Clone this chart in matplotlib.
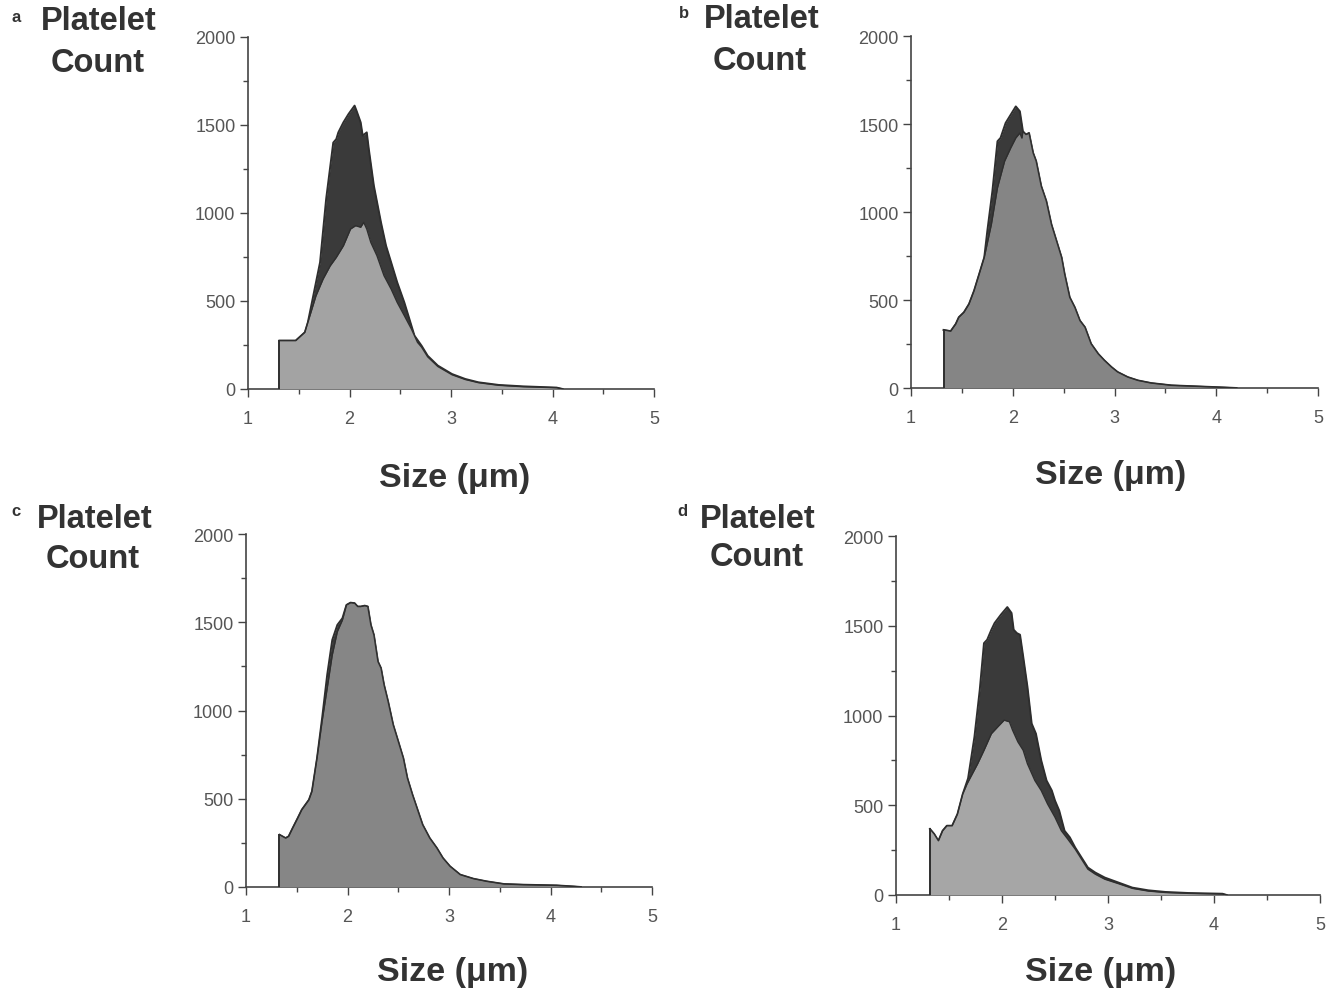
import matplotlib
matplotlib.use("Agg")
import matplotlib.pyplot as plt
from matplotlib.ticker import MultipleLocator

plt.rcParams['font.family'] = ['Liberation Sans', 'DejaVu Sans']

# ---- Panel a: platelet size distribution (total vs. subset) ----
a_size = [1.31, 1.47, 1.56, 1.59, 1.71, 1.77, 1.84, 1.87, 1.89, 1.94, 1.99, 2.05,
          2.07, 2.11, 2.13, 2.17, 2.19, 2.24, 2.31, 2.36, 2.41, 2.47, 2.54, 2.59,
          2.64, 2.71, 2.77, 2.87, 3.01, 3.14, 3.27, 3.47, 3.71, 4.04, 4.10]
a_total = [275, 275, 322, 379, 720, 1080, 1400, 1420, 1458, 1515, 1562, 1610,
           1580, 1515, 1440, 1458, 1364, 1155, 947, 814, 720, 606, 492, 398,
           303, 246, 189, 133, 85, 57, 38, 23, 15, 8, 0]
a_sub_size = [1.31, 1.47, 1.56, 1.61, 1.67, 1.74, 1.81, 1.87, 1.94, 2.01, 2.06,
              2.11, 2.14, 2.17, 2.21, 2.27, 2.34, 2.41, 2.47, 2.54, 2.61, 2.67,
              2.71, 2.77, 2.87, 3.01, 3.14, 3.27, 3.47, 3.71, 4.04, 4.10]
a_sub = [275, 275, 322, 417, 530, 625, 700, 748, 814, 909, 928,
         919, 947, 909, 833, 758, 644, 568, 492, 417, 341, 265,
         238, 183, 128, 81, 54, 36, 21, 13, 7, 0]

# ---- Panel b ----
b_size = [1.32, 1.39, 1.44, 1.47, 1.52, 1.57, 1.62, 1.67, 1.72, 1.75, 1.80, 1.85,
          1.88, 1.93, 1.98, 2.03, 2.07, 2.10, 2.13, 2.16, 2.20, 2.23, 2.28, 2.33,
          2.38, 2.43, 2.48, 2.51, 2.56, 2.61, 2.66, 2.71, 2.77, 2.84, 2.90, 2.97,
          3.03, 3.13, 3.23, 3.36, 3.56, 3.82, 4.08, 4.20]
b_total = [330, 323, 364, 402, 430, 477, 553, 647, 742, 892, 1119, 1402,
           1421, 1506, 1553, 1600, 1572, 1458, 1440, 1449, 1336, 1289, 1147, 1062,
           930, 836, 742, 647, 515, 458, 383, 345, 251, 194, 157, 119,
           91, 62, 43, 28, 15, 9, 3, 0]
b_sub_size = [1.32, 1.39, 1.44, 1.47, 1.52, 1.57, 1.62, 1.67, 1.72, 1.79, 1.85,
              1.92, 1.98, 2.03, 2.07, 2.09, 2.10, 2.13, 2.16, 2.20, 2.23, 2.28,
              2.33, 2.38, 2.43, 2.48, 2.51, 2.56, 2.61, 2.66, 2.71, 2.77, 2.84,
              2.90, 2.97, 3.03, 3.13, 3.23, 3.36, 3.56, 3.82, 4.08, 4.20]
b_sub = [330, 323, 364, 402, 430, 477, 553, 647, 742, 930, 1138,
         1289, 1364, 1421, 1449, 1420, 1458, 1440, 1449, 1336, 1289, 1147,
         1062, 930, 836, 742, 647, 515, 458, 383, 345, 251, 194,
         157, 119, 91, 62, 43, 28, 15, 9, 3, 0]

# ---- Panel c ----
c_size = [1.33, 1.39, 1.42, 1.46, 1.51, 1.55, 1.62, 1.65, 1.70, 1.75, 1.80, 1.85,
          1.90, 1.95, 1.99, 2.03, 2.07, 2.10, 2.13, 2.17, 2.20, 2.23, 2.26, 2.30,
          2.33, 2.36, 2.40, 2.45, 2.50, 2.55, 2.59, 2.64, 2.69, 2.74, 2.81, 2.88,
          2.94, 3.01, 3.11, 3.24, 3.37, 3.54, 3.73, 4.06, 4.23, 4.30]
c_total = [296, 277, 287, 334, 391, 438, 494, 542, 730, 957, 1202, 1400,
           1485, 1523, 1598, 1611, 1608, 1589, 1589, 1594, 1589, 1485, 1428, 1277,
           1240, 1145, 1051, 919, 825, 730, 617, 523, 438, 353, 277, 221,
           164, 117, 70, 47, 32, 17, 13, 9, 3, 0]
c_sub_size = [1.33, 1.39, 1.42, 1.46, 1.51, 1.55, 1.62, 1.65, 1.70, 1.75, 1.80,
              1.85, 1.90, 1.95, 1.99, 2.03, 2.07, 2.10, 2.13, 2.17, 2.20, 2.23,
              2.26, 2.30, 2.33, 2.36, 2.40, 2.45, 2.50, 2.55, 2.59, 2.64, 2.69,
              2.74, 2.81, 2.88, 2.94, 3.01, 3.11, 3.24, 3.37, 3.54, 3.73, 4.06,
              4.23, 4.30]
c_sub = [296, 277, 287, 334, 391, 438, 494, 542, 730, 940, 1126,
         1315, 1447, 1513, 1598, 1611, 1608, 1589, 1589, 1594, 1589, 1485,
         1428, 1277, 1240, 1145, 1051, 919, 825, 730, 617, 523, 438,
         353, 277, 221, 164, 117, 70, 47, 32, 17, 13, 9,
         3, 0]

# ---- Panel d ----
d_size = [1.32, 1.36, 1.40, 1.44, 1.48, 1.53, 1.58, 1.63, 1.68, 1.74, 1.79, 1.83,
          1.86, 1.90, 1.93, 1.99, 2.05, 2.09, 2.11, 2.14, 2.17, 2.20, 2.24, 2.28,
          2.32, 2.37, 2.42, 2.47, 2.50, 2.54, 2.59, 2.64, 2.69, 2.75, 2.81, 2.88,
          2.97, 3.10, 3.23, 3.38, 3.54, 3.76, 4.08, 4.12]
d_total = [368, 340, 302, 358, 386, 386, 451, 563, 650, 881, 1142, 1403,
           1422, 1478, 1515, 1562, 1604, 1571, 1478, 1459, 1450, 1328, 1160, 955,
           899, 750, 638, 582, 526, 470, 358, 321, 265, 209, 153, 125,
           97, 69, 41, 26, 17, 11, 7, 0]
d_sub_size = [1.32, 1.36, 1.40, 1.44, 1.48, 1.53, 1.58, 1.63, 1.67, 1.72, 1.77,
              1.83, 1.90, 1.96, 2.02, 2.07, 2.10, 2.15, 2.20, 2.24, 2.31, 2.37,
              2.43, 2.50, 2.56, 2.62, 2.69, 2.75, 2.81, 2.88, 2.97, 3.10, 3.23,
              3.38, 3.54, 3.76, 4.08, 4.12]
d_sub = [368, 340, 302, 358, 386, 386, 451, 563, 619, 675, 731,
         806, 899, 937, 974, 965, 918, 853, 806, 731, 638, 582,
         507, 433, 358, 312, 256, 200, 144, 116, 88, 63, 37,
         22, 14, 9, 5, 0]

letters = ['a', 'b', 'c', 'd']
y_ticks = [0, 500, 1000, 1500, 2000]
x_ticks = [1, 2, 3, 4, 5]

W, H = 1338, 995
fig = plt.figure(figsize=(W / 100, H / 100), dpi=100)


def fx(px):
    return px / W


def fy(py):
    return 1 - py / H


DARK = '#3a3a3a'
EDGE = '#2e2e2e'
TICK = '#555555'

panels = [
    dict(rect=(248, 38, 654, 390), total=(a_size, a_total), sub=(a_sub_size, a_sub),
         light='#a3a3a3', letter_xy=(16, 18), plat_xy=(99, 22), count_xy=(98, 63),
         size_xy=(455, 478)),
    dict(rect=(911, 37, 1318, 389), total=(b_size, b_total), sub=(b_sub_size, b_sub),
         light='#858585', letter_xy=(684, 14), plat_xy=(762, 20), count_xy=(760, 61),
         size_xy=(1111, 476)),
    dict(rect=(246, 535, 652, 888), total=(c_size, c_total), sub=(c_sub_size, c_sub),
         light='#868686', letter_xy=(16, 512), plat_xy=(95, 519), count_xy=(93, 560),
         size_xy=(453, 972)),
    dict(rect=(896, 537, 1320, 896), total=(d_size, d_total), sub=(d_sub_size, d_sub),
         light='#a6a6a6', letter_xy=(682, 512), plat_xy=(758, 519), count_xy=(757, 558),
         size_xy=(1101, 973)),
]

for letter, p in zip(letters, panels):
    x0, y0, x1, y1 = p['rect']
    ax = fig.add_axes([fx(x0), fy(y1), (x1 - x0) / W, (y1 - y0) / H])

    tx, ty = p['total']
    sx, sy = p['sub']
    ax.fill_between(tx, ty, 0, color=DARK, lw=0, zorder=1)
    ax.plot(tx, ty, color=EDGE, lw=1.4, zorder=2)
    ax.fill_between(sx, sy, 0, color=p['light'], lw=0, zorder=3)
    ax.plot(sx, sy, color=EDGE, lw=1.0, zorder=4)
    ax.plot([tx[0], tx[0]], [0, ty[0]], color=EDGE, lw=1.4, zorder=5)

    ax.set_xlim(1, 5)
    ax.set_ylim(0, 2000)
    ax.set_xticks(x_ticks)
    ax.set_yticks(y_ticks)
    ax.xaxis.set_minor_locator(MultipleLocator(0.5))
    ax.yaxis.set_minor_locator(MultipleLocator(250))
    ax.tick_params(axis='both', which='major', direction='out', length=6,
                   width=1.0, color='#444444', labelcolor=TICK, labelsize=13)
    ax.tick_params(axis='both', which='minor', direction='out', length=3.5,
                   width=1.0, color='#444444')
    ax.tick_params(axis='x', which='major', pad=9)
    ax.tick_params(axis='y', which='major', pad=3)
    for s in ('top', 'right'):
        ax.spines[s].set_visible(False)
    for s in ('left', 'bottom'):
        ax.spines[s].set_color('#444444')
        ax.spines[s].set_linewidth(1.2)
    ax.set_facecolor('none')

    lx, ly = p['letter_xy']
    fig.text(fx(lx), fy(ly), letter, fontsize=12, fontweight='bold',
             color='#333333', ha='center', va='center')
    px_, py_ = p['plat_xy']
    fig.text(fx(px_), fy(py_), 'Platelet', fontsize=23.5, fontweight='bold',
             color='#333333', ha='center', va='center')
    cx, cy = p['count_xy']
    fig.text(fx(cx), fy(cy), 'Count', fontsize=23.5, fontweight='bold',
             color='#333333', ha='center', va='center')
    zx, zy = p['size_xy']
    fig.text(fx(zx), fy(zy), 'Size (\u03bcm)', fontsize=24.5, fontweight='bold',
             color='#333333', ha='center', va='center')

fig.savefig('out.png', dpi=100, facecolor='white')
